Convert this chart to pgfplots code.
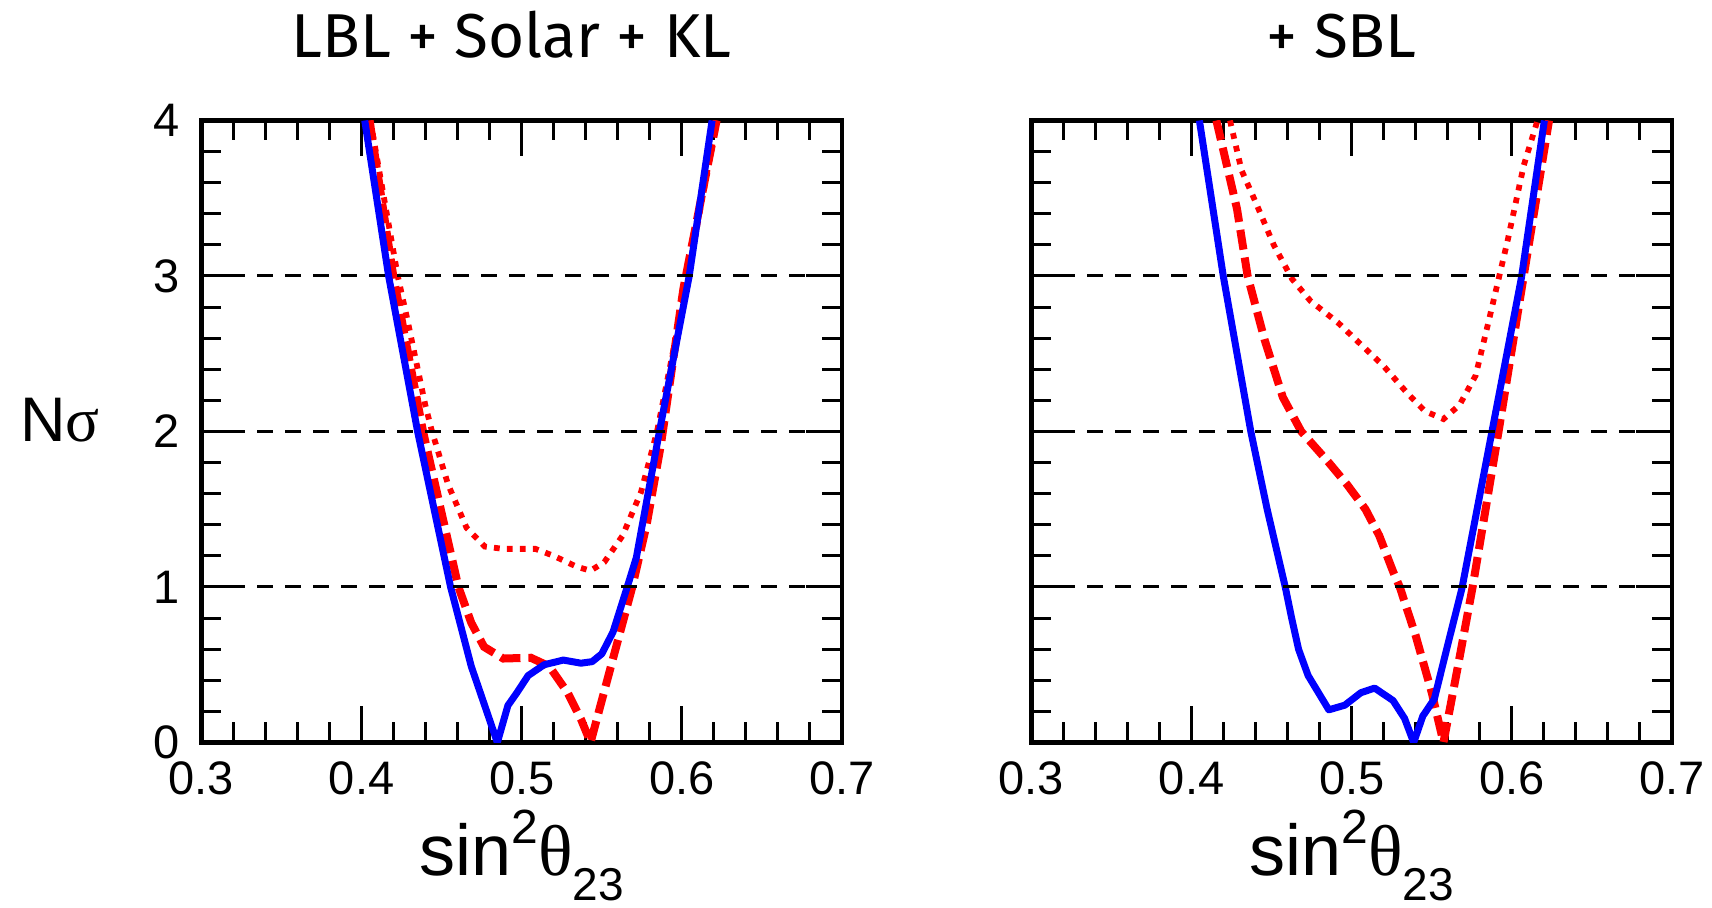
\documentclass[border=0pt]{standalone}
\usepackage{fontspec}
\setmainfont{Liberation Sans}
\newfontfamily\greekfont{Liberation Serif}
\newfontfamily\titlefont{Fira Sans}
\usepackage{pgfplots}
\pgfplotsset{compat=1.18}
\definecolor{pblue}{RGB}{0,0,255}
\definecolor{pred}{RGB}{255,0,0}

\pgfplotsset{
  panel/.style={
    scale only axis, width=320.3pt, height=311pt,
    xmin=0.3, xmax=0.7, ymin=0, ymax=4,
    xtick={0.3,0.4,0.5,0.6,0.7},
    ytick={0,1,2,3,4},
    minor x tick num=4, minor y tick num=4,
    tick align=inside,
    major tick length=18pt, minor tick length=10pt,
    axis line style={line width=2.2pt},
    tick style={black, line width=1.5pt},
    /pgf/number format/assume math mode=true,
    ticklabel style={font=\fontsize{23.5}{28}\selectfont},
    xticklabel style={yshift=-6pt},
    yticklabel style={xshift=-7.5pt},
    every axis title/.style={at={(axis description cs:0.5,1)}, anchor=base, yshift=31.25pt, xshift=-5pt, font=\titlefont\fontsize{31}{36}\selectfont},
    every axis x label/.style={at={(axis description cs:0.5,0)}, anchor=base, yshift=-66.5pt, inner sep=0pt},
    every axis y label/.style={at={(axis description cs:0,0)}, anchor=base, xshift=-70.7pt, yshift=150.4pt},
    xlabel={\fontsize{36}{40}\selectfont sin\raisebox{16pt}{\fontsize{24}{26}\selectfont 2}{\greekfont θ}\raisebox{-12.5pt}{\fontsize{23}{26}\selectfont 23}},
    clip=true,
  },
  solidb/.style={pblue, line width=3.5pt, line join=round},
  dashr/.style={pred, line width=4pt, dash pattern=on 10pt off 4pt},
  dotr/.style={pred, line width=2.9pt, dash pattern=on 2.9pt off 3.6pt},
  gridl/.style={black, line width=1.5pt, dash pattern=on 8pt off 6pt},
}

\begin{document}
\begin{tikzpicture}
\path[use as bounding box] (0,0) rectangle (856pt,454pt);

% ---------------- left panel ----------------
\begin{axis}[panel, at={(100.7pt,82.75pt)}, anchor=south west,
  xticklabels={0.3,0.4,0.5,0.6,0.7},
  yticklabels={0,1,2,3,4},
  title={LBL + Solar + KL},
  ylabel={\fontsize{31.5}{36}\selectfont N{\greekfont σ}}]
\addplot[dotr] coordinates {
(0.4055,4) (0.4226,3) (0.4284,2.73) (0.4398,2.17) (0.444,2.0) (0.454,1.66)
(0.4656,1.38) (0.477,1.26) (0.4885,1.245) (0.5086,1.245) (0.520,1.20)
(0.5344,1.13) (0.543,1.105) (0.5516,1.16) (0.563,1.33) (0.5745,1.61)
(0.5845,2.0) (0.603,2.95) (0.6217,4)};
\addplot[dashr] coordinates {
(0.405,4) (0.4198,3) (0.4384,2) (0.4605,1) (0.4685,0.77) (0.4765,0.615)
(0.4885,0.54) (0.5057,0.545) (0.5172,0.49) (0.5287,0.32) (0.537,0.15)
(0.543,0) (0.5565,0.52) (0.5688,0.99) (0.578,1.4) (0.587,1.92)
(0.601,2.92) (0.6217,4)};
\addplot[solidb] coordinates {
(0.402,4) (0.4169,3) (0.435,2) (0.4556,1) (0.4685,0.49) (0.4848,0)
(0.4914,0.238) (0.497,0.32) (0.504,0.43) (0.514,0.50) (0.526,0.53)
(0.537,0.51) (0.544,0.52) (0.550,0.57) (0.557,0.71) (0.5659,1.0)
(0.5716,1.19) (0.586,2.0) (0.6046,3.0) (0.6189,4)};
\addplot[gridl] coordinates {(0.3,1) (0.7,1)};
\addplot[gridl] coordinates {(0.3,2) (0.7,2)};
\addplot[gridl] coordinates {(0.3,3) (0.7,3)};
\end{axis}

% ---------------- right panel ----------------
\begin{axis}[panel, at={(515.7pt,82.75pt)}, anchor=south west,
  xticklabels={0.3,0.4,0.5,0.6,0.7},
  yticklabels={},
  title={+ SBL}]
\addplot[dotr] coordinates {
(0.424,4) (0.4312,3.68) (0.4398,3.48) (0.4513,3.20) (0.4628,2.98)
(0.4742,2.84) (0.4914,2.70) (0.5057,2.56) (0.520,2.42) (0.5344,2.25)
(0.5458,2.13) (0.5573,2.08) (0.5673,2.17) (0.5774,2.36) (0.586,2.73)
(0.5974,3.23) (0.6074,3.71) (0.616,4)};
\addplot[dashr] coordinates {
(0.4155,4) (0.4284,3.43) (0.435,3) (0.4456,2.59) (0.457,2.22) (0.4685,2)
(0.4857,1.80) (0.497,1.66) (0.5086,1.50) (0.5172,1.33) (0.5258,1.10)
(0.530,1) (0.540,0.685) (0.550,0.32) (0.5573,0) (0.5665,0.5)
(0.5755,1.0) (0.5917,2.0) (0.6074,3.0) (0.6232,4)};
\addplot[solidb] coordinates {
(0.4049,4) (0.4198,3) (0.437,2) (0.4472,1.5) (0.4585,1) (0.4625,0.8)
(0.4668,0.6) (0.4728,0.43) (0.4857,0.21) (0.4957,0.24) (0.5057,0.32)
(0.5143,0.35) (0.5258,0.27) (0.533,0.155) (0.5387,0) (0.5444,0.17)
(0.5516,0.28) (0.560,0.63) (0.5688,0.99) (0.5874,1.99) (0.606,2.99) (0.6203,4)};
\addplot[gridl] coordinates {(0.3,1) (0.7,1)};
\addplot[gridl] coordinates {(0.3,2) (0.7,2)};
\addplot[gridl] coordinates {(0.3,3) (0.7,3)};
\end{axis}
\end{tikzpicture}
\end{document}
